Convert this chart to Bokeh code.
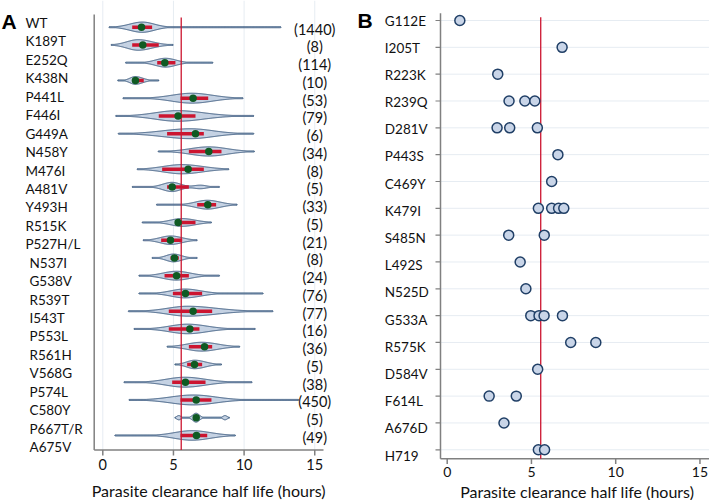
import numpy as np
from bokeh.plotting import figure
from bokeh.models import Range1d
from bokeh.core.properties import value
from bokeh.layouts import row
from bokeh.embed import file_html
from bokeh.resources import INLINE

# ---------------- Panel A data (violins) ----------------
mut_a = ["WT", "K189T", "E252Q", "K438N", "P441L", "F446I", "G449A", "N458Y",
         "M476I", "A481V", "Y493H", "R515K", "P527H/L", "N537I", "G538V", "R539T",
         "I543T", "P553L", "R561H", "V568G", "P574L", "C580Y", "P667T/R", "A675V"]
counts_a = [1440, 8, 114, 10, 53, 79, 6, 34, 8, 5, 33, 5, 21, 8, 24, 76, 77, 16,
            36, 5, 38, 450, 5, 49]
vmin = [0.43, 0.59, 1.61, 1.06, 1.42, 0.90, 1.09, 3.92, 2.43, 2.08, 3.80, 2.79,
        2.86, 3.49, 2.55, 2.55, 1.80, 2.20, 4.55, 5.10, 1.49, 1.84, 5.10, 0.85]
vmax = [12.62, 4.98, 7.79, 3.96, 9.93, 10.69, 10.69, 10.73, 8.92, 8.26, 9.51, 7.69,
        6.68, 6.68, 8.26, 11.35, 12.05, 10.80, 9.69, 8.40, 10.57, 13.87, 8.96, 9.39]
body_lo = [0.9, 0.8, 2.9, 1.5, 3.3, 1.9, 2.1, 4.7, 2.8, 3.5, 5.6, 3.9,
           3.2, 3.9, 3.2, 3.7, 3.0, 3.3, 4.8, 5.3, 3.0, 3.0, 6.1, 3.7]
mode = [2.8, 2.5, 4.44, 2.3, 6.3, 5.3, 6.2, 7.5, 5.6, 4.9, 7.4, 5.6,
        4.8, 5.0, 5.2, 5.8, 6.0, 6.0, 7.0, 6.5, 5.8, 6.4, 6.6, 6.3]
body_hi = [4.6, 4.6, 6.0, 3.4, 9.4, 9.2, 9.6, 10.3, 8.7, 6.2, 9.3, 7.6,
           6.5, 6.2, 7.3, 8.2, 10.3, 8.9, 9.4, 8.1, 8.9, 9.8, 7.1, 9.1]
q1 = [2.08, 2.08, 3.85, 2.20, 5.50, 3.96, 4.55, 6.09, 4.20, 4.55, 6.68, 5.14,
      4.13, 4.79, 4.37, 4.96, 4.67, 4.67, 6.09, 5.97, 4.91, 5.50, 6.50, 5.50]
median = [2.74, 2.83, 4.39, 2.31, 6.39, 5.33, 6.56, 7.50, 6.04, 4.91, 7.43, 5.33,
          4.79, 5.07, 5.22, 5.85, 6.39, 6.16, 7.20, 6.49, 5.85, 6.61, 6.61, 6.63]
q3 = [3.49, 3.96, 5.14, 2.90, 7.46, 6.56, 7.15, 8.40, 7.15, 6.09, 8.02, 6.56,
      5.62, 5.38, 6.09, 7.03, 7.74, 6.84, 7.74, 7.03, 7.27, 7.69, 6.75, 7.39]
peak_width = [0.29, 0.30, 0.25, 0.22, 0.28, 0.30, 0.28, 0.26, 0.26, 0.26, 0.25, 0.22,
              0.24, 0.22, 0.25, 0.25, 0.28, 0.27, 0.25, 0.24, 0.28, 0.28, 0.25, 0.27]
# secondary density bumps
bump_row = ["A481V", "P667T/R", "P667T/R"]
bump_center = [6.9, 5.38, 8.65]
bump_sd = [0.45, 0.15, 0.15]
bump_width = [0.10, 0.12, 0.12]

# ---------------- Panel B data (dots) ----------------
mut_b = ["G112E", "I205T", "R223K", "R239Q", "D281V", "P443S", "C469Y", "K479I",
         "S485N", "L492S", "N525D", "G533A", "R575K", "D584V", "F614L", "A676D", "H719"]
pts_b_mut = ["G112E", "I205T", "R223K", "R239Q", "R239Q", "R239Q", "D281V", "D281V",
             "D281V", "P443S", "C469Y", "K479I", "K479I", "K479I", "K479I", "S485N",
             "S485N", "L492S", "N525D", "G533A", "G533A", "G533A", "G533A", "R575K",
             "R575K", "D584V", "F614L", "F614L", "A676D", "H719", "H719"]
pts_b_val = [0.75, 6.82, 3.00, 3.67, 4.61, 5.20, 2.96, 3.71, 5.35, 6.57, 6.20, 5.41,
             6.20, 6.61, 6.92, 3.65, 5.76, 4.33, 4.67, 4.96, 5.45, 5.75, 6.84, 7.33,
             8.82, 5.37, 2.49, 4.10, 3.37, 5.41, 5.78]
ref_line = 5.55
x_ticks = [0, 5, 10, 15]
x_title = "Parasite clearance half life (hours)"

FONT = "Lato"
AXIS_COL = "#808080"
RED = "#cc1530"
TXT = "#111111"
GRID = "#e6ecf2"

# ---------------- layout helpers (pixel positions -> plot coordinates) --------
W_A, W_B, H = 355, 354, 500
na = len(mut_a)
nb = len(mut_b)


def ax(px):            # panel A, screen x -> data x
    return (px - 102.3) / 14.13


def ay(px):            # panel A, screen y -> data y (row index, top row = na-1)
    return (na - 1) - (px - 26.7) / 17.75


A_LAB0, A_LABSTEP = 22.5, 18.44          # label column of panel A


def bx(px):            # panel B (absolute page x)
    return (px - 446.7) / 16.85


def by(px):
    return (nb - 1) - (px - 20.0) / 26.83


B_LAB0, B_LABSTEP = 20.0, 27.19


def style_blank(p):
    p.xaxis.visible = False
    p.yaxis.visible = False
    p.xgrid.grid_line_color = None
    p.ygrid.grid_line_color = None
    p.outline_line_color = None


# ---------------- build violin outlines ----------------
ypos_a = [na - 1 - i for i in range(na)]
xs_list, ys_list = [], []
for i in range(na):
    xg = np.linspace(vmin[i], vmax[i], 400)
    sl = (mode[i] - body_lo[i]) / 2.15
    sr = (body_hi[i] - mode[i]) / 2.15
    s = np.where(xg < mode[i], sl, sr)
    w = peak_width[i] * np.exp(-0.5 * ((xg - mode[i]) / s) ** 2)
    for r, c, sd, bw in zip(bump_row, bump_center, bump_sd, bump_width):
        if r == mut_a[i]:
            w = w + bw * np.exp(-0.5 * ((xg - c) / sd) ** 2)
    w = np.maximum(w, 0.03)
    w[0] = 0
    w[-1] = 0
    xs_list.append(list(xg) + list(xg[::-1]))
    ys_list.append(list(ypos_a[i] + w) + list((ypos_a[i] - w)[::-1]))

# ---------------- Panel A figure ----------------
pA = figure(width=W_A, height=H, output_backend="svg", toolbar_location=None,
            x_range=Range1d(ax(0), ax(W_A)), y_range=Range1d(ay(H), ay(0)),
            min_border_left=0, min_border_right=0, min_border_top=0,
            min_border_bottom=0)
pA.extra_y_ranges = {"lab": Range1d(-(H - (A_LAB0 + (na - 1) * A_LABSTEP)) / A_LABSTEP,
                                    (na - 1) + A_LAB0 / A_LABSTEP)}
style_blank(pA)
a_axis_y = ay(449.5)
nt = len(x_ticks)
# vertical grid lines
pA.segment(x0=x_ticks, x1=x_ticks, y0=[a_axis_y] * nt, y1=[ay(0)] * nt,
           line_color=GRID, line_width=1)
# axes lines + ticks
pA.segment(x0=[ax(93.7)], x1=[ax(93.7)], y0=[a_axis_y], y1=[ay(14)],
           line_color=AXIS_COL, line_width=1.5)
pA.segment(x0=[ax(93.7)], x1=[ax(323)], y0=[a_axis_y], y1=[a_axis_y],
           line_color=AXIS_COL, line_width=1.5)
pA.segment(x0=x_ticks, x1=x_ticks, y0=[a_axis_y] * nt, y1=[ay(455)] * nt,
           line_color=AXIS_COL, line_width=1.5)
pA.text(x=x_ticks, y=[ay(464)] * nt, text=[str(t) for t in x_ticks],
        text_font=value(FONT), text_font_size="14.5px", text_baseline="middle",
        text_align="center", text_color=TXT)
pA.text(x=[ax(208.3)], y=[ay(490)], text=[x_title], text_font=value(FONT),
        text_font_size="16px", text_baseline="middle", text_align="center",
        text_color=TXT)

# violins
pA.patches(xs_list, ys_list, fill_color="#c5d2e3", line_color="#2f5077",
           line_width=1)
pA.segment(x0=[ref_line], x1=[ref_line], y0=[a_axis_y], y1=[ay(17)],
           line_color=RED, line_width=1.3)
pA.segment(x0=q1, x1=q3, y0=ypos_a, y1=ypos_a, line_color=RED, line_width=3.5)
pA.scatter(x=median, y=ypos_a, size=7.5, fill_color="#0f5a23", line_color=None)

lab_x_a = [ax(25) if i < 13 else ax(29) for i in range(na)]
pA.text(x=lab_x_a, y=ypos_a, text=mut_a, y_range_name="lab",
        text_font=value(FONT), text_font_size="13.5px", text_baseline="middle",
        text_align="left", text_color=TXT)
cnt_dy = 2.0 / 17.75
pA.text(x=[15] * na, y=[v - cnt_dy for v in ypos_a],
        text=["(%d)" % c for c in counts_a],
        text_font=value(FONT), text_font_size="14.5px", text_baseline="middle",
        text_align="center", text_color=TXT)
pA.text(x=[ax(1.0)], y=[ay(20.5)], text=["A"], text_font=value("Liberation Sans"),
        text_font_style="bold", text_font_size="21px", text_baseline="middle",
        text_align="left", text_color="#000000")

# ---------------- Panel B figure ----------------
ymap = {m: nb - 1 - i for i, m in enumerate(mut_b)}
ypos_b = [nb - 1 - i for i in range(nb)]
pB = figure(width=W_B, height=H, output_backend="svg", toolbar_location=None,
            x_range=Range1d(bx(355), bx(355 + W_B)), y_range=Range1d(by(H), by(0)),
            min_border_left=0, min_border_right=0, min_border_top=0,
            min_border_bottom=0)
pB.extra_y_ranges = {"lab": Range1d(-(H - (B_LAB0 + (nb - 1) * B_LABSTEP)) / B_LABSTEP,
                                    (nb - 1) + B_LAB0 / B_LABSTEP)}
style_blank(pB)
b_axis_y = by(458.3)
b_axis_x = bx(440)
# horizontal grid lines, axis lines and ticks
pB.segment(x0=[b_axis_x] * nb, x1=[bx(709)] * nb, y0=ypos_b, y1=ypos_b,
           line_color=GRID, line_width=1)
pB.segment(x0=[b_axis_x], x1=[b_axis_x], y0=[b_axis_y], y1=[by(12.7)],
           line_color=AXIS_COL, line_width=1.5)
pB.segment(x0=[b_axis_x], x1=[bx(709)], y0=[b_axis_y], y1=[b_axis_y],
           line_color=AXIS_COL, line_width=1.5)
pB.segment(x0=[bx(435)] * nb, x1=[b_axis_x] * nb, y0=ypos_b, y1=ypos_b,
           line_color=AXIS_COL, line_width=1.2)
pB.segment(x0=x_ticks, x1=x_ticks, y0=[b_axis_y] * nt, y1=[by(463.5)] * nt,
           line_color=AXIS_COL, line_width=1.5)
pB.text(x=x_ticks, y=[by(471.7)] * nt, text=[str(t) for t in x_ticks],
        text_font=value(FONT), text_font_size="14px", text_baseline="middle",
        text_align="center", text_color=TXT)
pB.text(x=[bx(576.7)], y=[by(490.7)], text=[x_title], text_font=value(FONT),
        text_font_size="16px", text_baseline="middle", text_align="center",
        text_color=TXT)
pB.segment(x0=[ref_line], x1=[ref_line], y0=[b_axis_y], y1=[by(16.7)],
           line_color=RED, line_width=1.3)
pB.scatter(x=pts_b_val, y=[ymap[m] for m in pts_b_mut], size=10,
           fill_color="#c9d5e8", line_color="#203f66", line_width=1.5)
pB.text(x=[bx(384.3)] * nb, y=ypos_b, text=mut_b, y_range_name="lab",
        text_font=value(FONT), text_font_size="13.5px", text_baseline="middle",
        text_align="left", text_color=TXT)
pB.text(x=[bx(357.0)], y=[by(19.5)], text=["B"], text_font=value("Liberation Sans"),
        text_font_style="bold", text_font_size="21px", text_baseline="middle",
        text_align="left", text_color="#000000")

layout = row(pA, pB)
open("out.html", "w").write(file_html(layout, INLINE))
